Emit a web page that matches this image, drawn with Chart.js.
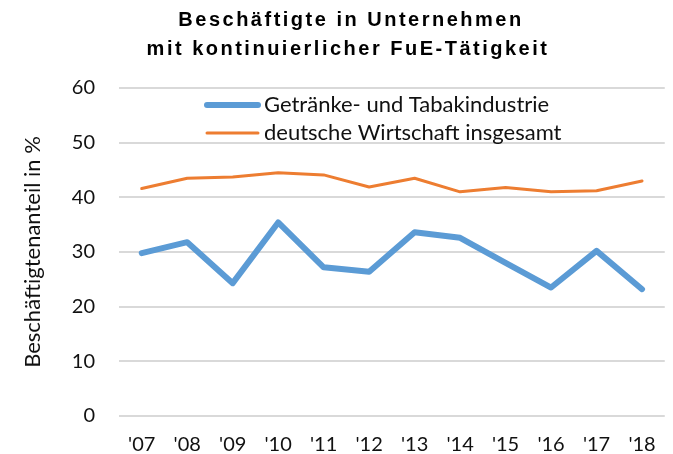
<!DOCTYPE html>
<html lang="de">
<head>
<meta charset="utf-8">
<title>Beschäftigte in Unternehmen mit kontinuierlicher FuE-Tätigkeit</title>
<script src="https://cdn.jsdelivr.net/npm/chart.js@4.4.1/dist/chart.umd.min.js"></script>
<style>
  html, body { margin: 0; padding: 0; background: #fff; }
  #chart { display: block; }
</style>
</head>
<body>
<canvas id="chart" width="673" height="454"></canvas>
<script>
const YEARS = ["'07", "'08", "'09", "'10", "'11", "'12", "'13", "'14", "'15", "'16", "'17", "'18"];
const BEVERAGE_TOBACCO = [29.8, 31.8, 24.3, 35.4, 27.2, 26.4, 33.6, 32.6, 28.0, 23.5, 30.2, 23.2];
const ECONOMY_TOTAL = [41.6, 43.5, 43.7, 44.5, 44.1, 41.9, 43.5, 41.0, 41.8, 41.0, 41.2, 43.0];
const SERIES_LABELS = ['Getränke- und Tabakindustrie', 'deutsche Wirtschaft insgesamt'];
const TITLE_LINES = ['Beschäftigte in Unternehmen', 'mit kontinuierlicher FuE-Tätigkeit'];
const Y_TITLE = 'Beschäftigtenanteil in %';
const Y_MIN = 0;
const Y_MAX = 60;
const Y_STEP = 10;

const BLUE = '#5b9bd5';
const ORANGE = '#ed7d31';
const GRID = '#d9d9d9';
const TEXT = '#111111';
const LABEL_FONT = 'Lato, "Open Sans", sans-serif';

// two-line bold title, spaced out like the original
const titlePlugin = {
  id: 'spacedTitle',
  afterDraw(chart, args, opts) {
    const { ctx } = chart;
    ctx.save();
    ctx.font = 'bold 20px "Liberation Sans", Arial, sans-serif';
    ctx.fillStyle = '#000';
    ctx.textAlign = 'center';
    ctx.textBaseline = 'alphabetic';
    if ('letterSpacing' in ctx) ctx.letterSpacing = opts.spacing;
    opts.lines.forEach((line, i) => ctx.fillText(line, opts.x[i], opts.y[i]));
    ctx.restore();
  }
};

// legend sitting inside the plot between the 50 and 60 gridlines
const legendPlugin = {
  id: 'insetLegend',
  afterDraw(chart, args, opts) {
    const { ctx } = chart;
    ctx.save();
    ctx.font = `22px ${LABEL_FONT}`;
    ctx.textAlign = 'left';
    ctx.textBaseline = 'middle';
    chart.data.datasets.forEach((ds, i) => {
      const y = opts.top + i * opts.rowGap;
      ctx.strokeStyle = ds.borderColor;
      ctx.lineWidth = ds.borderWidth;
      ctx.lineCap = 'round';
      ctx.beginPath();
      ctx.moveTo(opts.left, y);
      ctx.lineTo(opts.left + opts.sample, y);
      ctx.stroke();
      ctx.fillStyle = TEXT;
      ctx.fillText(ds.label, opts.left + opts.sample + opts.gap, y);
    });
    ctx.restore();
  }
};

const canvas = document.getElementById('chart');
new Chart(canvas, {
  type: 'line',
  data: {
    labels: YEARS,
    datasets: [
      {
        label: SERIES_LABELS[0],
        data: BEVERAGE_TOBACCO,
        borderColor: BLUE,
        backgroundColor: BLUE,
        borderWidth: 6,
        borderCapStyle: 'round',
        borderJoinStyle: 'round',
        pointRadius: 0,
        tension: 0
      },
      {
        label: SERIES_LABELS[1],
        data: ECONOMY_TOTAL,
        borderColor: ORANGE,
        backgroundColor: ORANGE,
        borderWidth: 3,
        borderCapStyle: 'round',
        borderJoinStyle: 'round',
        pointRadius: 0,
        tension: 0
      }
    ]
  },
  options: {
    responsive: false,
    animation: false,
    devicePixelRatio: 1,
    layout: { padding: { top: 88, right: 8, bottom: 0, left: 0 } },
    scales: {
      x: {
        offset: true,
        grid: { display: false, drawTicks: false },
        border: { display: false },
        ticks: { color: TEXT, font: { family: LABEL_FONT, size: 20 }, padding: 17, maxRotation: 0, autoSkip: false },
        afterFit: (scale) => { scale.height = 38; }
      },
      y: {
        min: Y_MIN,
        max: Y_MAX,
        grid: { color: GRID, lineWidth: 2, drawTicks: false },
        border: { display: false },
        ticks: { stepSize: Y_STEP, color: TEXT, font: { family: LABEL_FONT, size: 20 }, padding: 24 },
        title: {
          display: true,
          text: Y_TITLE,
          color: TEXT,
          font: { family: LABEL_FONT, size: 22 },
          padding: { top: 20, bottom: 0 }
        },
        afterFit: (scale) => { scale.width = 119; }
      }
    },
    plugins: {
      legend: { display: false },
      tooltip: { enabled: false },
      spacedTitle: { lines: TITLE_LINES, x: [351, 348], y: [26, 55], spacing: '2.5px' },
      insetLegend: { left: 207, top: 105, rowGap: 28, sample: 51, gap: 6 }
    }
  },
  plugins: [titlePlugin, legendPlugin]
});
</script>
</body>
</html>
